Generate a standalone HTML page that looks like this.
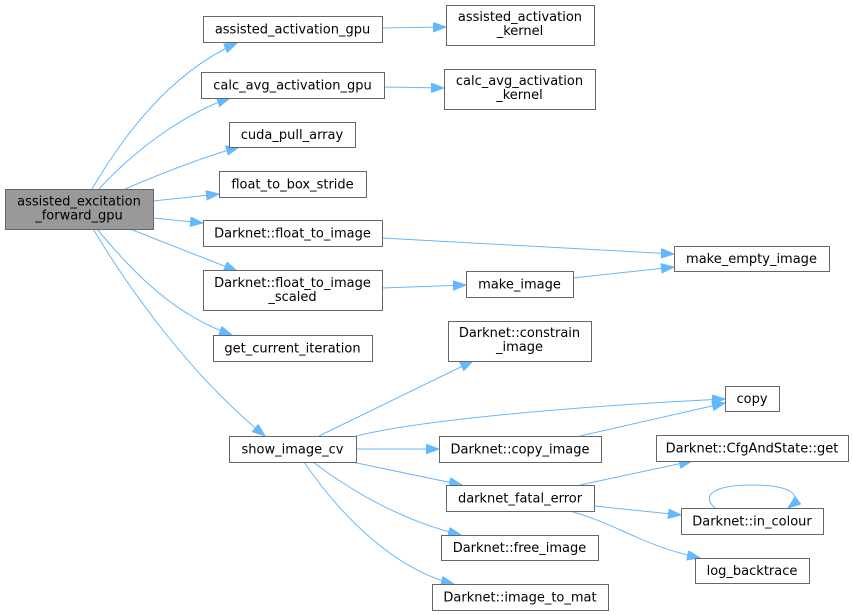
<!DOCTYPE html>
<html><head><meta charset="utf-8"><style>
html,body{margin:0;padding:0;background:#fff;}
svg{display:block;}
text{font-family:"DejaVu Sans","Liberation Sans",sans-serif;font-size:13px;fill:#000;}
</style></head><body>
<svg width="853" height="615" viewBox="0 0 853 615" xmlns="http://www.w3.org/2000/svg">
<defs>
<marker id="a" markerUnits="userSpaceOnUse" markerWidth="14" markerHeight="10" refX="13" refY="4.8" orient="auto">
<path d="M0,0 L13,4.8 L0,9.6 z" fill="#63b8ff" stroke="#63b8ff" stroke-width="1"/>
</marker>
</defs>
<rect width="853" height="615" fill="#fff"/>
<g fill="none" stroke="#63b8ff" stroke-width="1" marker-end="url(#a)">
<path d="M92,189 C118,145 165,75 237,43"/>
<path d="M99,189 C130,155 180,115 230,98"/>
<path d="M125,189 C160,174 200,158 239,147"/>
<path d="M153,201 L219,194"/>
<path d="M153,218 L203,223"/>
<path d="M130,229 L237,271"/>
<path d="M97,229 C135,275 175,315 232,335"/>
<path d="M93,229 C130,290 190,375 265,436"/>
<path d="M382,28 L446,27"/>
<path d="M384,87 L444,88"/>
<path d="M382,238 L674,254"/>
<path d="M382,288 L466,285"/>
<path d="M573,278 L674,267"/>
<path d="M319,436 L473,361"/>
<path d="M356,436 C430,418 600,405 725,399"/>
<path d="M356,449 L439,449"/>
<path d="M352,462 L462,485"/>
<path d="M313,462 C350,490 400,520 461,535"/>
<path d="M304,462 C340,515 395,570 454,584"/>
<path d="M580,436 L725,403"/>
<path d="M580,485 L692,461"/>
<path d="M594,506 L681,515"/>
<path d="M570,511 C620,525 640,545 700,558"/>
<path d="M715,508 C700,495 715,485 752,485 C790,485 805,495 788,508"/>
</g>
<g stroke="#666" stroke-width="1" fill="#fff">
<rect x="5.5" y="189.5" width="148" height="40" fill="#999"/>
<rect x="203.5" y="16.5" width="179" height="26"/>
<rect x="201.5" y="72.5" width="183" height="26"/>
<rect x="229.5" y="122.5" width="126" height="25"/>
<rect x="219.5" y="171.5" width="147" height="26"/>
<rect x="203.5" y="220.5" width="179" height="26"/>
<rect x="203.5" y="270.5" width="179" height="40"/>
<rect x="213.5" y="335.5" width="159" height="26"/>
<rect x="229.5" y="436.5" width="127" height="26"/>
<rect x="446.5" y="5.5" width="148" height="40"/>
<rect x="444.5" y="69.5" width="151" height="40"/>
<rect x="674.5" y="246.5" width="155" height="25"/>
<rect x="466.5" y="271.5" width="107" height="26"/>
<rect x="448.5" y="321.5" width="143" height="40"/>
<rect x="439.5" y="436.5" width="162" height="26"/>
<rect x="446.5" y="485.5" width="148" height="26"/>
<rect x="441.5" y="535.5" width="157" height="25"/>
<rect x="432.5" y="584.5" width="176" height="26"/>
<rect x="725.5" y="386.5" width="54" height="25"/>
<rect x="656.5" y="435.5" width="192" height="26"/>
<rect x="681.5" y="508.5" width="142" height="26"/>
<rect x="695.5" y="558.5" width="114" height="25"/>
</g>
<g text-anchor="middle">
<text x="79" y="205.5">assisted_excitation</text>
<text x="79" y="219.5">_forward_gpu</text>
<text x="292.5" y="33.5">assisted_activation_gpu</text>
<text x="292.5" y="89.5">calc_avg_activation_gpu</text>
<text x="292" y="139">cuda_pull_array</text>
<text x="292.5" y="188.5">float_to_box_stride</text>
<text x="292.5" y="237.5">Darknet::float_to_image</text>
<text x="292.5" y="287">Darknet::float_to_image</text>
<text x="292.5" y="301">_scaled</text>
<text x="292.5" y="352.5">get_current_iteration</text>
<text x="292.5" y="453.5">show_image_cv</text>
<text x="520" y="21">assisted_activation</text>
<text x="520" y="35">_kernel</text>
<text x="519.5" y="85">calc_avg_activation</text>
<text x="519.5" y="99">_kernel</text>
<text x="751.5" y="263">make_empty_image</text>
<text x="519.5" y="288.5">make_image</text>
<text x="519.5" y="337">Darknet::constrain</text>
<text x="519.5" y="351">_image</text>
<text x="520" y="453.5">Darknet::copy_image</text>
<text x="520" y="502.5">darknet_fatal_error</text>
<text x="519.5" y="552">Darknet::free_image</text>
<text x="520" y="601.5">Darknet::image_to_mat</text>
<text x="752" y="403">copy</text>
<text x="752" y="452.5">Darknet::CfgAndState::get</text>
<text x="752" y="525.5">Darknet::in_colour</text>
<text x="752" y="575">log_backtrace</text>
</g>
</svg>
</body></html>
